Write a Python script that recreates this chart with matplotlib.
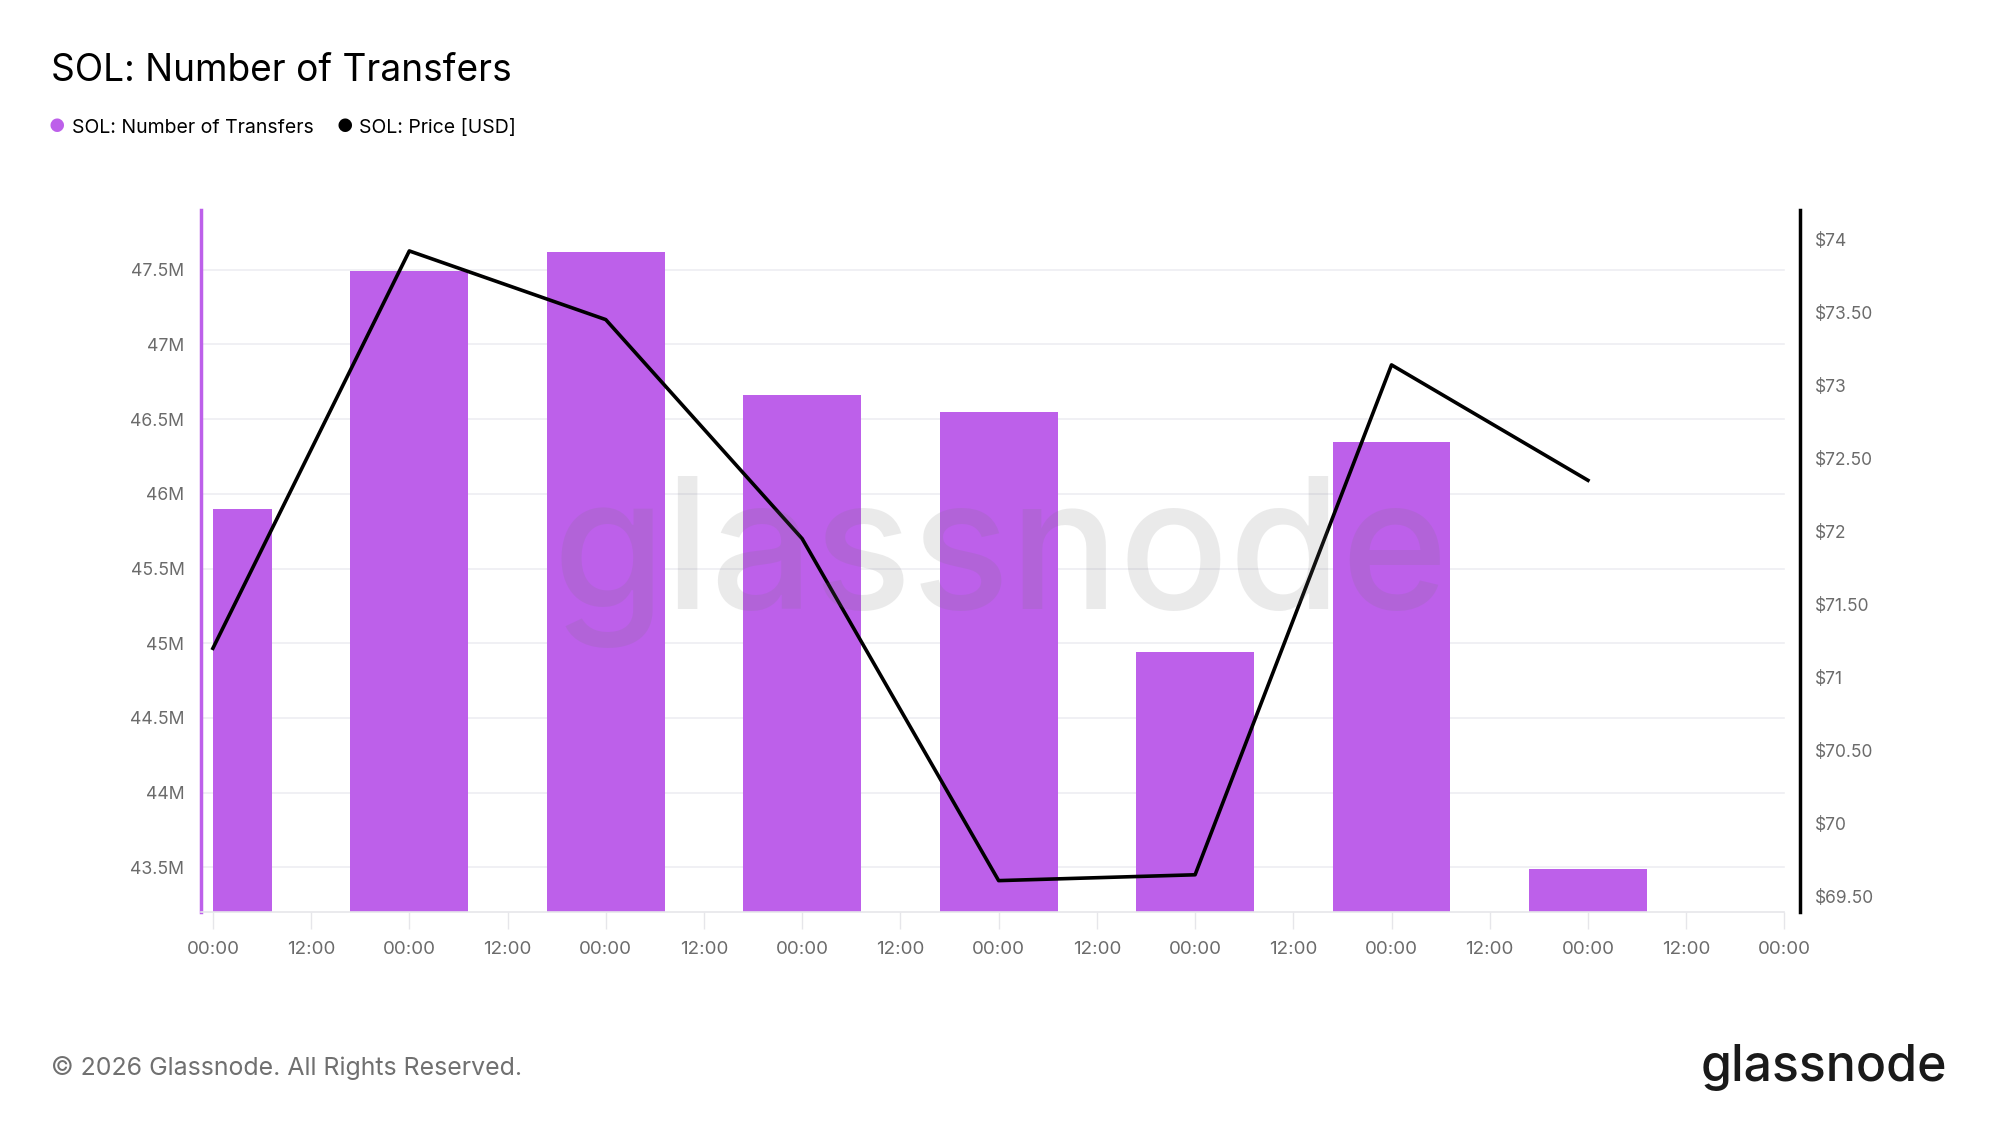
import numpy as np
import matplotlib.pyplot as plt
from matplotlib.ticker import FuncFormatter

plt.rcParams['font.family'] = ['Inter', 'DejaVu Sans']

# daily data points (day index, 00:00 each day)
days = np.arange(8)
transfers = [45.90e6, 47.49e6, 47.62e6, 46.66e6, 46.55e6, 44.94e6, 46.35e6, 43.49e6]
price = [71.20, 73.92, 73.45, 71.95, 69.61, 69.65, 73.14, 72.35]
xticks = np.arange(0, 8.01, 0.5)
xticklabels = ["00:00" if t % 1 == 0 else "12:00" for t in xticks]

purple = "#BD60EA"
tick_grey = "#6b6b6b"

fig = plt.figure(figsize=(19.99, 11.25), dpi=100)
ax = fig.add_axes([0.1006, 0.1893, 0.7999, 0.6240])
ax2 = ax.twinx()

# bars centred on each day, the first one cut at the first timestamp
x = days.astype(float)
lefts = np.maximum(x - 0.3, x[0])
widths = x + 0.3 - lefts
ax.bar(lefts, transfers, width=widths, align="edge", color=purple, zorder=2)

ax2.plot(x, price, color="black", lw=2.6, zorder=3)

ax.set_xlim(-0.06, 8.08)
ax.set_ylim(43.2e6, 47.9e6)
ax2.set_ylim(69.395, 74.2)

ax.set_yticks(np.arange(43.5e6, 47.51e6, 0.5e6))
ax.yaxis.set_major_formatter(FuncFormatter(lambda v, p: f"{v/1e6:g}M"))
ax2.set_yticks(np.arange(69.5, 74.01, 0.5))
ax2.yaxis.set_major_formatter(FuncFormatter(
    lambda v, p: f"${v:.0f}" if abs(v - round(v)) < 1e-6 else f"${v:.2f}"))

ax.set_xticks(xticks)
ax.set_xticklabels(xticklabels)

# grid lines stop at the last timestamp, not at the right spine
for t in ax.get_yticks():
    ax.plot([-0.06, 8.0], [t, t], color="#eeeef2", lw=1.2, zorder=0)

for a in (ax, ax2):
    for s in a.spines.values():
        s.set_visible(False)
ax.spines["left"].set_visible(True)
ax.spines["left"].set_color(purple)
ax.spines["left"].set_linewidth(2.5)
ax.spines["bottom"].set_visible(True)
ax.spines["bottom"].set_color("#e6e6ea")
ax.spines["bottom"].set_linewidth(1.2)
ax.spines["bottom"].set_bounds(-0.06, 8.0)
ax2.spines["right"].set_visible(True)
ax2.spines["right"].set_color("black")
ax2.spines["right"].set_linewidth(2.5)

ax.tick_params(axis="y", length=0, pad=12, labelsize=12.7, labelcolor=tick_grey)
ax2.tick_params(axis="y", length=0, pad=11, labelsize=12.5, labelcolor=tick_grey)
ax.tick_params(axis="x", length=12, width=1, color="#e6e6ea", pad=9,
               labelsize=13.5, labelcolor=tick_grey)

# watermark, drawn over the plot with low alpha
fig.text(0.5003, 0.500, "glassnode", fontsize=131, color="#777777", alpha=0.15,
         ha="center", va="center", zorder=10, fontweight="medium")

fig.text(0.0255, 0.937, "SOL: Number of Transfers", fontsize=26.7, color="black",
         ha="left", va="center")

# legend
fig.text(0.0285, 0.8865, "\u25CF", fontsize=13, color=purple, ha="center", va="center")
fig.text(0.0358, 0.8865, "SOL: Number of Transfers", fontsize=14, ha="left", va="center")
fig.text(0.1725, 0.8865, "\u25CF", fontsize=13, color="black", ha="center", va="center")
fig.text(0.1795, 0.8865, "SOL: Price [USD]", fontsize=14, ha="left", va="center")

fig.text(0.0255, 0.051, "\u00A9 2026 Glassnode. All Rights Reserved.", fontsize=17.9,
         color="#707070", ha="left", va="center")
fig.text(0.974, 0.051, "glassnode", fontsize=36, color="#1a1a1a", ha="right",
         va="center", fontweight="medium")

fig.savefig("out.png", dpi=100)
